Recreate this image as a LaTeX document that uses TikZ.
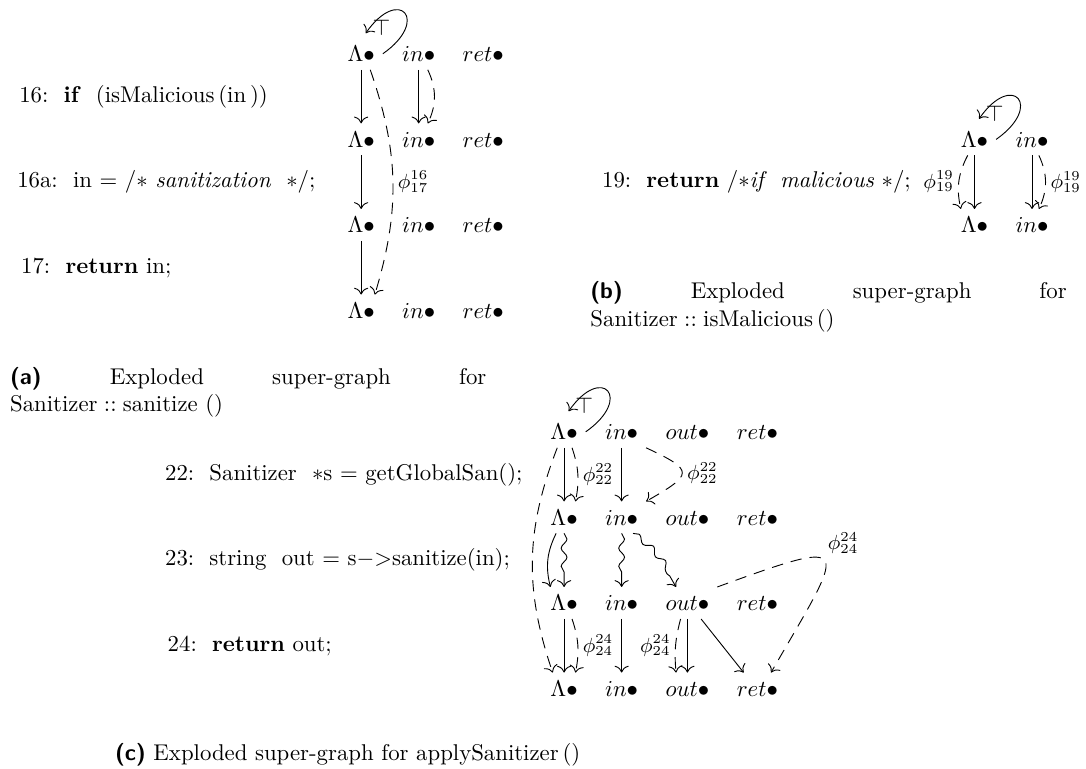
\documentclass[tikz,border=0pt]{standalone}
\usepackage{amsmath}
\usetikzlibrary{positioning,decorations.pathmorphing,arrows.meta}

\begin{document}
\begin{tikzpicture}[>={To[scale=1.2]}]
    \tikzset{%
      vtx/.style={inner sep=3.33pt, text height=7pt, text depth=0pt},
      code/.style={anchor=west, inner sep=0pt},
      lbl/.style={font=\small, inner sep=2pt},
      capt/.style={anchor=north west, inner sep=0pt, text width=209pt,
        align=justify},
      flow/.style={->},
      phiedge/.style={->, dash pattern=on 5pt off 3.5pt},
      callflow/.style={->, decorate, decoration={snake, amplitude=.45mm,
          segment length=2.8mm, post length=1.5mm}},
      selfloop/.style={->},
      node distance=5pt,
    }
    \useasboundingbox (0,0) rectangle (16.75,11.86);

    % (a) Sanitizer::sanitize()
    \node[vtx] (a1L) at (5.57,11.03) {$\Lambda\bullet$};
    \node[vtx, right=of a1L] (a1i) {$in\bullet$};
    \node[vtx, right=of a1i] (a1r) {$ret\bullet$};
    \node[vtx] (a2L) at (5.57,9.71) {$\Lambda\bullet$};
    \node[vtx, right=of a2L] (a2i) {$in\bullet$};
    \node[vtx, right=of a2i] (a2r) {$ret\bullet$};
    \node[vtx] (a3L) at (5.57,8.39) {$\Lambda\bullet$};
    \node[vtx, right=of a3L] (a3i) {$in\bullet$};
    \node[vtx, right=of a3i] (a3r) {$ret\bullet$};
    \node[vtx] (a4L) at (5.57,7.07) {$\Lambda\bullet$};
    \node[vtx, right=of a4L] (a4i) {$in\bullet$};
    \node[vtx, right=of a4i] (a4r) {$ret\bullet$};

    \node[code] (s16) at (0.29,10.37) {16:\ \ \textbf{if}\ \ (isMalicious\,(in\,))};
    \node[code] (s16a) at (0.26,9.05) {16a:\ \ in $=$ $/\ast$ \textit{sanitization}\ \ $\ast/$;};
    \node[code] (s17) at (0.32,7.73) {17:\ \ \textbf{return} in;};

    \draw[selfloop] (a1L.east) .. controls +(35:.9) and +(55:.9) .. ([xshift=2pt,yshift=2pt]a1L.north)
      node[pos=.6, below left=1pt] {$\top$};
    \draw[flow] (a1L) -- (a2L);
    \draw[flow] (a2L) -- (a3L);
    \draw[flow] (a3L) -- (a4L);
    \draw[phiedge] ([xshift=4pt]a1L.south) to[bend left=18]
      node[right, lbl] {$\phi^{16}_{17}$} ([xshift=6pt]a4L.north);
    \draw[flow] (a1i) -- (a2i);
    \draw[phiedge] ([xshift=4pt]a1i.south) to[bend left=25] ([xshift=4pt]a2i.north);

    \node[capt] (capa) at (0.15,6.20) {\textsf{\textbf{(a)}} Exploded super-graph
      for\linebreak Sanitizer${}::{}$sanitize\ ()};

    % (b) Sanitizer::isMalicious()
    \node[vtx] (b1L) at (15.03,9.71) {$\Lambda\bullet$};
    \node[vtx, right=of b1L] (b1i) {$in\bullet$};
    \node[vtx] (b2L) at (15.03,8.39) {$\Lambda\bullet$};
    \node[vtx, right=of b2L] (b2i) {$in\bullet$};

    \node[code] (s19) at (9.28,9.05) {19:\ \ \textbf{return}\ $/\ast$\textit{if\ \ malicious}\ $\ast/$;};

    \draw[selfloop] (b1L.east) .. controls +(35:.9) and +(55:.9) .. ([xshift=2pt,yshift=2pt]b1L.north)
      node[pos=.6, below left=1pt] {$\top$};
    \draw[flow] (b1L) -- (b2L);
    \draw[phiedge] ([xshift=-3pt]b1L.south) to[bend right=20]
      node[left, lbl] {$\phi^{19}_{19}$} ([xshift=-6pt]b2L.north);
    \draw[flow] (b1i) -- (b2i);
    \draw[phiedge] ([xshift=3pt]b1i.south) to[bend left=25]
      node[right, lbl] {$\phi^{19}_{19}$} ([xshift=3pt]b2i.north);

    \node[capt] (capb) at (9.10,7.52) {\textsf{\textbf{(b)}} Exploded super-graph
      for\linebreak Sanitizer${}::{}$isMalicious\,()};

    % (c) applySanitizer()
    \node[vtx] (c1L) at (8.70,5.20) {$\Lambda\bullet$};
    \node[vtx, right=of c1L] (c1i) {$in\bullet$};
    \node[vtx, right=of c1i] (c1o) {$out\bullet$};
    \node[vtx, right=of c1o] (c1r) {$ret\bullet$};
    \node[vtx] (c2L) at (8.70,3.88) {$\Lambda\bullet$};
    \node[vtx, right=of c2L] (c2i) {$in\bullet$};
    \node[vtx, right=of c2i] (c2o) {$out\bullet$};
    \node[vtx, right=of c2o] (c2r) {$ret\bullet$};
    \node[vtx] (c3L) at (8.70,2.56) {$\Lambda\bullet$};
    \node[vtx, right=of c3L] (c3i) {$in\bullet$};
    \node[vtx, right=of c3i] (c3o) {$out\bullet$};
    \node[vtx, right=of c3o] (c3r) {$ret\bullet$};
    \node[vtx] (c4L) at (8.70,1.24) {$\Lambda\bullet$};
    \node[vtx, right=of c4L] (c4i) {$in\bullet$};
    \node[vtx, right=of c4i] (c4o) {$out\bullet$};
    \node[vtx, right=of c4o] (c4r) {$ret\bullet$};

    \node[code] (s22) at (2.54,4.54) {22:\ \ Sanitizer\ \ $\ast$s $=$ getGlobalSan();};
    \node[code] (s23) at (2.54,3.22) {23:\ \ string\ \ out $=$ s{$-$}{$>$}sanitize(in);};
    \node[code] (s24) at (2.58,1.90) {24:\ \ \textbf{return} out;};

    \draw[selfloop] (c1L.east) .. controls +(35:.9) and +(55:.9) .. ([xshift=2pt,yshift=2pt]c1L.north)
      node[pos=.6, below left=1pt] {$\top$};
    \draw[flow] (c1L) -- (c2L);
    \draw[phiedge] ([xshift=3.5pt]c1L.south) to[bend left=15]
      node[right, lbl] {$\phi^{22}_{22}$} ([xshift=5pt]c2L.north);
    \draw[phiedge] ([xshift=-3pt]c1L.south) to[bend right=20] ([xshift=-5pt]c4L.north);
    \draw[flow] (c1i) -- (c2i);
    \draw[phiedge] (c1i.south east) to[out=-25, in=30, looseness=2.6]
      node[right, lbl] {$\phi^{22}_{22}$} (c2i.north east);

    \draw[flow] ([xshift=-3.5pt]c2L.south) to[bend right=20] ([xshift=-6pt]c3L.north);
    \draw[callflow] (c2L) -- (c3L);
    \draw[callflow] (c2i) -- (c3i);
    \draw[callflow] ([xshift=5pt]c2i.south) to[out=-35, in=120] ([xshift=-5pt]c3o.north);

    \draw[flow] (c3L) -- (c4L);
    \draw[phiedge] ([xshift=3.5pt]c3L.south) to[bend left=15]
      node[right, lbl] {$\phi^{24}_{24}$} ([xshift=5pt]c4L.north);
    \draw[flow] (c3i) -- (c4i);
    \draw[flow] (c3o) -- (c4o);
    \draw[phiedge] ([xshift=-3pt]c3o.south) to[bend right=10]
      node[left, lbl] {$\phi^{24}_{24}$} ([xshift=-5pt]c4o.north);
    \draw[flow] ([xshift=6pt]c3o.south) -- ([xshift=-6pt]c4r.north);
    \draw[phiedge] (c3o.north east) to[out=20, in=60, looseness=3.8]
      node[pos=.45, above right, lbl] {$\phi^{24}_{24}$} ([xshift=6pt]c4r.north);

    \node[code] (capc) at (1.77,0.22) {\textsf{\textbf{(c)}} Exploded super-graph for applySanitizer\,()};
 \end{tikzpicture}
\end{document}
